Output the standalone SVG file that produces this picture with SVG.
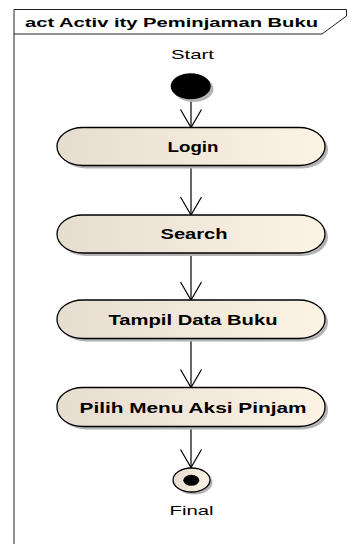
<svg xmlns="http://www.w3.org/2000/svg" width="363" height="544" viewBox="0 0 363 544">
<style>
.frame{fill:none;stroke:#222;stroke-width:1}
.title{font-family:"Liberation Sans",Arial,sans-serif;font-size:12px;font-weight:bold;fill:#000}
.lbl{font-family:"Liberation Sans",Arial,sans-serif;font-size:13.5px;fill:#000}
.ntext{font-family:"Liberation Sans",Arial,sans-serif;font-size:14px;font-weight:bold;fill:#000}
.node{fill:url(#g);stroke:#000;stroke-width:1.3}
.shadow{fill:#b4b4b4}
.conn{fill:none;stroke:#000;stroke-width:1.2;marker-end:url(#arr)}
</style>
<defs>
<linearGradient id="g" x1="0" y1="0" x2="1" y2="0">
<stop offset="0" stop-color="#e6ddd0"/>
<stop offset="1" stop-color="#fdf3e5"/>
</linearGradient>
<marker id="arr" markerUnits="userSpaceOnUse" markerWidth="22" markerHeight="26" viewBox="-20 -13 22 26" refX="0" refY="0" orient="auto" overflow="visible">
<path d="M-18,-10.5 L0,0 L-18,10.5" fill="none" stroke="#000" stroke-width="1.2"/>
</marker>
</defs>
<g id="frame">
<path class="frame" d="M14,544 V9.5 H346.5 V16 L322,34 H14"/>
<text class="title" x="25" y="27" textLength="293" lengthAdjust="spacingAndGlyphs">act Activ ity Peminjaman Buku</text>
</g>
<g id="connectors">
<line class="conn" x1="191" y1="99.5" x2="191" y2="127.5"/>
<line class="conn" x1="191" y1="165.5" x2="191" y2="215"/>
<line class="conn" x1="191" y1="253" x2="191" y2="300"/>
<line class="conn" x1="191" y1="338.5" x2="191" y2="387.5"/>
<line class="conn" x1="191" y1="426.5" x2="191" y2="467.5"/>
</g>
<g id="start">
<text class="lbl" x="192.5" y="59" text-anchor="middle" textLength="43" lengthAdjust="spacingAndGlyphs">Start</text>
<ellipse class="shadow" cx="193.5" cy="89" rx="20" ry="13"/>
<ellipse cx="190.7" cy="86.3" rx="20" ry="13" fill="#000"/>
</g>
<g id="login">
<rect class="shadow" x="60" y="130.5" width="268" height="38" rx="26" ry="19"/>
<rect class="node" x="57" y="127.5" width="268" height="38" rx="26" ry="19"/>
<text class="ntext" x="193" y="152" text-anchor="middle" textLength="51" lengthAdjust="spacingAndGlyphs">Login</text>
</g>
<g id="search">
<rect class="shadow" x="60" y="218" width="268" height="38" rx="26" ry="19"/>
<rect class="node" x="57" y="215" width="268" height="38" rx="26" ry="19"/>
<text class="ntext" x="194" y="239" text-anchor="middle" textLength="67" lengthAdjust="spacingAndGlyphs">Search</text>
</g>
<g id="tampil">
<rect class="shadow" x="60" y="303" width="268" height="38.5" rx="26" ry="19"/>
<rect class="node" x="57" y="300" width="268" height="38.5" rx="26" ry="19"/>
<text class="ntext" x="193" y="324.5" text-anchor="middle" textLength="169" lengthAdjust="spacingAndGlyphs">Tampil Data Buku</text>
</g>
<g id="pilih">
<rect class="shadow" x="60" y="390.5" width="268" height="39" rx="26" ry="19"/>
<rect class="node" x="57" y="387.5" width="268" height="39" rx="26" ry="19"/>
<text class="ntext" x="193" y="412.5" text-anchor="middle" textLength="227" lengthAdjust="spacingAndGlyphs">Pilih Menu Aksi Pinjam</text>
</g>
<g id="final">
<ellipse class="shadow" cx="194" cy="482.5" rx="18.5" ry="12"/>
<ellipse cx="191.5" cy="480" rx="18.5" ry="12" fill="url(#g)" stroke="#000" stroke-width="1.3"/>
<ellipse cx="191.3" cy="480.3" rx="8" ry="5.5" fill="#000"/>
<text class="lbl" x="191.5" y="515" text-anchor="middle" textLength="44" lengthAdjust="spacingAndGlyphs">Final</text>
</g>
</svg>
